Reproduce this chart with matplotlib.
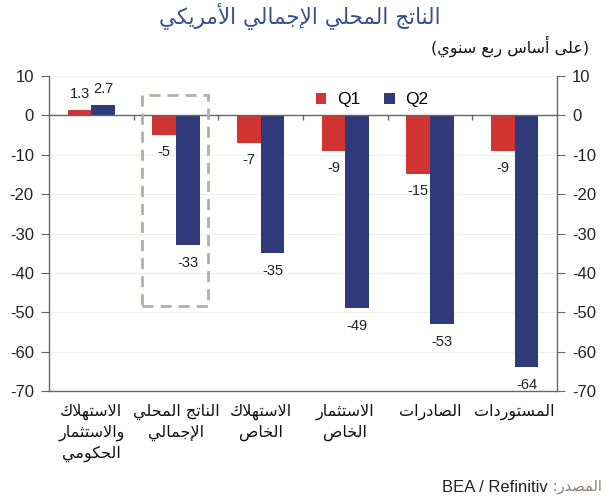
import numpy as np
import matplotlib
matplotlib.use("Agg")
import matplotlib.pyplot as plt
from matplotlib.patches import Rectangle
from matplotlib import font_manager

# ---------------- data ----------------
categories = [
    "الاستهلاك\nوالاستثمار\nالحكومي",
    "الناتج المحلي\nالإجمالي",
    "الاستهلاك\nالخاص",
    "الاستثمار\nالخاص",
    "الصادرات",
    "المستوردات",
]
q1 = [1.3, -5, -7, -9, -15, -9]
q2 = [2.7, -33, -35, -49, -53, -64]
q1_labels = ["1.3", "-5", "-7", "-9", "-15", "-9"]
q2_labels = ["2.7", "-33", "-35", "-49", "-53", "-64"]
yticks = [10, 0, -10, -20, -30, -40, -50, -60, -70]
series_names = ["Q1", "Q2"]
title = "الناتج المحلي الإجمالي الأمريكي"
subtitle = "على أساس ربع سنوي"
source_word = "المصدر"
source_text = "BEA / Refinitiv"

# ---------------- minimal Arabic shaping ----------------
FORMS = {
    'ا': (0xFE8D, False), 'أ': (0xFE83, False), 'إ': (0xFE87, False), 'آ': (0xFE81, False),
    'ب': (0xFE8F, True), 'ت': (0xFE95, True), 'ث': (0xFE99, True), 'ج': (0xFE9D, True),
    'ح': (0xFEA1, True), 'خ': (0xFEA5, True), 'د': (0xFEA9, False), 'ذ': (0xFEAB, False),
    'ر': (0xFEAD, False), 'ز': (0xFEAF, False), 'س': (0xFEB1, True), 'ش': (0xFEB5, True),
    'ص': (0xFEB9, True), 'ض': (0xFEBD, True), 'ط': (0xFEC1, True), 'ظ': (0xFEC5, True),
    'ع': (0xFEC9, True), 'غ': (0xFECD, True), 'ف': (0xFED1, True), 'ق': (0xFED5, True),
    'ك': (0xFED9, True), 'ل': (0xFEDD, True), 'م': (0xFEE1, True), 'ن': (0xFEE5, True),
    'ه': (0xFEE9, True), 'و': (0xFEED, False), 'ى': (0xFEEF, False), 'ي': (0xFEF1, True),
    'ة': (0xFE93, False),
}
LAM_ALEF = {'ا': 0xFEFB, 'أ': 0xFEF7, 'إ': 0xFEF9, 'آ': 0xFEF5}


def shape(text):
    units = []
    i = 0
    while i < len(text):
        c = text[i]
        if c == 'ل' and i + 1 < len(text) and text[i + 1] in LAM_ALEF:
            units.append((LAM_ALEF[text[i + 1]], False))
            i += 2
            continue
        if c in FORMS:
            units.append(FORMS[c])
        else:
            units.append((c, None))
        i += 1
    out = []
    for k, (b, dual) in enumerate(units):
        if dual is None:
            out.append(b)
            continue
        prev_joins = k > 0 and units[k - 1][1] is True
        next_joins = dual and k + 1 < len(units) and units[k + 1][1] is not None
        if prev_joins and next_joins:
            code = b + 3
        elif prev_joins:
            code = b + 1
        elif next_joins:
            code = b + 2
        else:
            code = b
        out.append(chr(code))
    return "".join(out)


def rtl(text):
    return "\n".join(shape(line)[::-1] for line in text.split("\n"))


# ---------------- figure ----------------
plt.rcParams['font.family'] = ['Liberation Sans', 'DejaVu Sans']
available = {f.name for f in font_manager.fontManager.ttflist}
narrow = 'Liberation Sans Narrow' if 'Liberation Sans Narrow' in available else 'Liberation Sans'

RED = "#d13532"
BLUE = "#2e3a7a"
AXC = "#666666"

fig = plt.figure(figsize=(6.06, 5.0), dpi=100)
ax = fig.add_axes([0.081, 0.218, 0.838, 0.630])

x = np.arange(len(categories))
w = 0.28
ax.bar(x - w / 2, q1, w, color=RED, label=series_names[0], zorder=3)
ax.bar(x + w / 2, q2, w, color=BLUE, label=series_names[1], zorder=3)

for xi, v, lab in zip(x, q1, q1_labels):
    off = 16 if v > 0 else -17
    ax.annotate(lab, (xi - w / 2, v), xytext=(0, off), textcoords="offset pixels",
                ha="center", va="center", fontsize=10.5, color="#222222", zorder=4)
for xi, v, lab in zip(x, q2, q2_labels):
    off = 16 if v > 0 else -18
    ax.annotate(lab, (xi + w / 2, v), xytext=(0, off), textcoords="offset pixels",
                ha="center", va="center", fontsize=10.5, color="#222222", zorder=4)

ax.set_xlim(-0.5, len(categories) - 0.5)
ax.set_ylim(yticks[-1], yticks[0])
ax.set_yticks(yticks)
ax.set_yticklabels([str(t) for t in yticks])
ax.tick_params(axis="y", which="both", left=True, right=True, labelleft=True,
               labelright=True, direction="out", length=6, color=AXC,
               labelsize=12, pad=5, labelcolor="#222222")
ax.set_xticks(x)
ax.set_xticklabels([rtl(c) for c in categories], fontsize=11.5, linespacing=1.4,
                   family=['DejaVu Sans'])
ax.tick_params(axis="x", length=0, pad=9, labelcolor="#111111")

for s in ["left", "right", "bottom"]:
    ax.spines[s].set_color(AXC)
    ax.spines[s].set_linewidth(1.0)
ax.spines["top"].set_visible(False)

ax.grid(axis="y", color="#eeeeee", linewidth=0.8, zorder=0)
ax.set_axisbelow(True)

# zero line with group separators
ax.axhline(0, color=AXC, linewidth=1.0, zorder=4)
ax.vlines(x[:-1] + 0.5, -1.3, 0, color=AXC, linewidth=1.0, zorder=4)

# dashed highlight box around GDP group
ax.add_patch(Rectangle((x[1] - 0.40, -48.3), 0.78, 53.4, fill=False,
                       edgecolor="#b5aea4", linewidth=2.0, linestyle=(0, (4, 2.5)),
                       zorder=5, clip_on=False))

leg = ax.legend(loc="center", bbox_to_anchor=(0.636, 0.924), ncol=2, frameon=False,
                fontsize=12.5, handlelength=0.6, handleheight=0.6,
                columnspacing=1.4, handletextpad=0.6)

# titles
fig.text(0.495, 0.968, rtl(title), ha="center", va="center", fontsize=15.5,
         color="#3a4f8c", family=['DejaVu Sans'])
fig.text(0.972, 0.908, "(" + rtl(subtitle) + ")", ha="right", va="center",
         fontsize=11.5, color="#111111", family=['DejaVu Sans'])

# source
src_word = fig.text(0.993, 0.026, " :" + rtl(source_word), ha="right", va="center",
                    fontsize=10.5, color="#8a7f72", family=['DejaVu Sans'])
fig.canvas.draw()
bb = src_word.get_window_extent()
fig.text(bb.x0 / fig.bbox.width, 0.026, source_text, ha="right", va="center",
         fontsize=12, color="#222222", family=[narrow, 'DejaVu Sans'])

fig.savefig("out.png", dpi=100)
